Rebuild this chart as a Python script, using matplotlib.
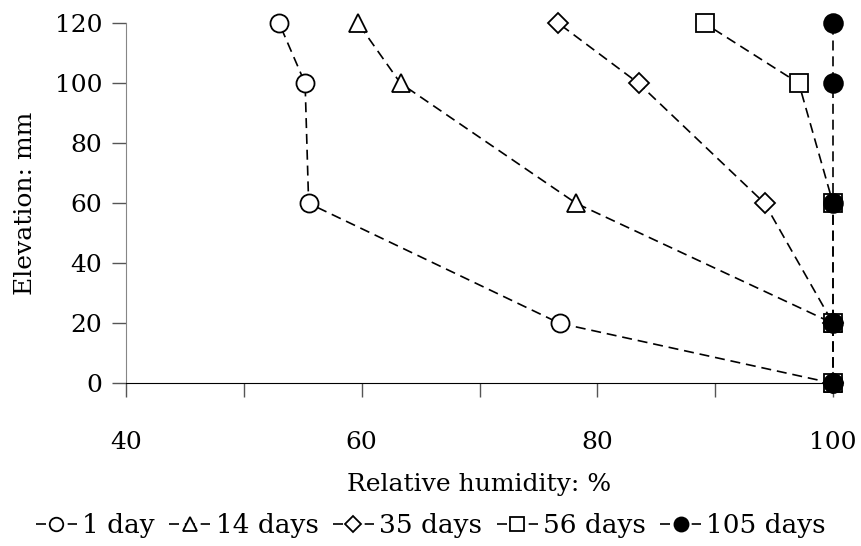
import matplotlib
matplotlib.use("Agg")
import matplotlib.pyplot as plt
from matplotlib.ticker import MultipleLocator

elevation = [0, 20, 60, 100, 120]
rh_1day = [100, 76.8, 55.5, 55.2, 53.0]
rh_14days = [100, 100, 78.2, 63.3, 59.7]
rh_35days = [100, 100, 94.2, 83.5, 76.7]
rh_56days = [100, 100, 100, 97.1, 89.1]
rh_105days = [100, 100, 100, 100, 100]
labels = ["1 day", "14 days", "35 days", "56 days", "105 days"]

plt.rcParams['font.family'] = ['DejaVu Serif']
FS = 18

fig = plt.figure(figsize=(8.62, 5.46), dpi=100)
ax = fig.add_axes([126/862, 1-383.3/546, (833-126)/862, (383.3-23.3)/546])

series = [rh_1day, rh_14days, rh_35days, rh_56days, rh_105days]
markers = ['o', '^', 'D', 's', 'o']
sizes = [13, 13, 10.5, 13, 13.5]
faces = ['white', 'white', 'white', 'white', 'black']
for vals, m, s, fc, lab in zip(series, markers, sizes, faces, labels):
    ax.plot(vals, elevation, linestyle=(0, (6, 3.5)), color='black', lw=1.2,
            marker=m, markersize=s, markerfacecolor=fc, markeredgecolor='black',
            markeredgewidth=1.3, label=lab, clip_on=False)

ax.set_xlim(40, 100)
ax.set_ylim(0, 120)
ax.xaxis.set_major_locator(MultipleLocator(20))
ax.xaxis.set_minor_locator(MultipleLocator(10))
ax.yaxis.set_major_locator(MultipleLocator(20))
for sp in ['top', 'right']:
    ax.spines[sp].set_visible(False)
ax.spines['left'].set_color('#868686')
ax.spines['bottom'].set_color('black')
ax.tick_params(axis='x', which='both', direction='out', length=10, width=1, color='#555555',
               labelsize=FS, pad=24)
ax.tick_params(axis='y', which='major', direction='out', length=10, width=1, color='#555555',
               labelsize=FS, pad=7)
ax.set_xlabel("Relative humidity: %", fontsize=FS, labelpad=14)
ax.set_ylabel("Elevation: mm", fontsize=FS, labelpad=13)

leg = fig.legend(loc='center', bbox_to_anchor=(0.5, 1-526/546), ncol=5, frameon=False,
                 fontsize=19, handlelength=1.55, handletextpad=0.2, columnspacing=0.55,
                 markerscale=0.75)

fig.savefig("out.png", dpi=100)
